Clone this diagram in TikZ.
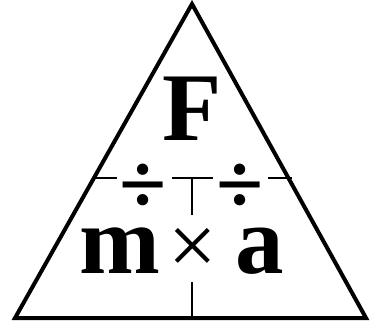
\documentclass[tikz,border=0pt]{standalone}
\usepackage{fontspec}
\setmainfont{Liberation Serif}
\newfontfamily\symfont{Liberation Serif}
\begin{document}
\begin{tikzpicture}[x=1pt,y=-1pt,
  edge/.style={line width=4pt,line join=miter},
  inner/.style={line width=2.4pt},
  big/.style={font=\fontsize{97}{100}\selectfont\bfseries,inner sep=0pt},
  divop/.style={font=\symfont\fontsize{86}{88}\selectfont\bfseries,inner sep=0pt},
  mulop/.style={font=\symfont\fontsize{86}{88}\selectfont,inner sep=0pt}]
\useasboundingbox (0,0) rectangle (377,321);
\coordinate (apex) at (192,4);
\coordinate (bl) at (15,318);
\coordinate (br) at (366,318);
\draw[edge] (apex) -- (br) -- (bl) -- cycle;
% horizontal divider pieces
\coordinate (hl0) at (93,178);
\coordinate (hl1) at (117,178);
\coordinate (hm0) at (172,178);
\coordinate (hm1) at (213,178);
\coordinate (hr0) at (268,178);
\coordinate (hr1) at (292,178);
\coordinate (vt) at (192,215);
\coordinate (vb0) at (192,282);
\coordinate (vb1) at (192,318);
\draw[inner] (hl0) -- (hl1);
\draw[inner] (hm0) -- (hm1);
\draw[inner] (hr0) -- (hr1);
\draw[inner] (192,178) -- (vt);
\draw[inner] (vb0) -- (vb1);
\node[big,anchor=base] (F) at (192,140) {F};
\node[big,anchor=base] (m) at (120,273) {m};
\node[big,anchor=base] (a) at (260,273) {a};
\node[mulop] (times) at (193,251) {×};
\node[divop] (divl) at (143,189) {÷};
\node[divop] (divr) at (240,189) {÷};
\end{tikzpicture}
\end{document}
